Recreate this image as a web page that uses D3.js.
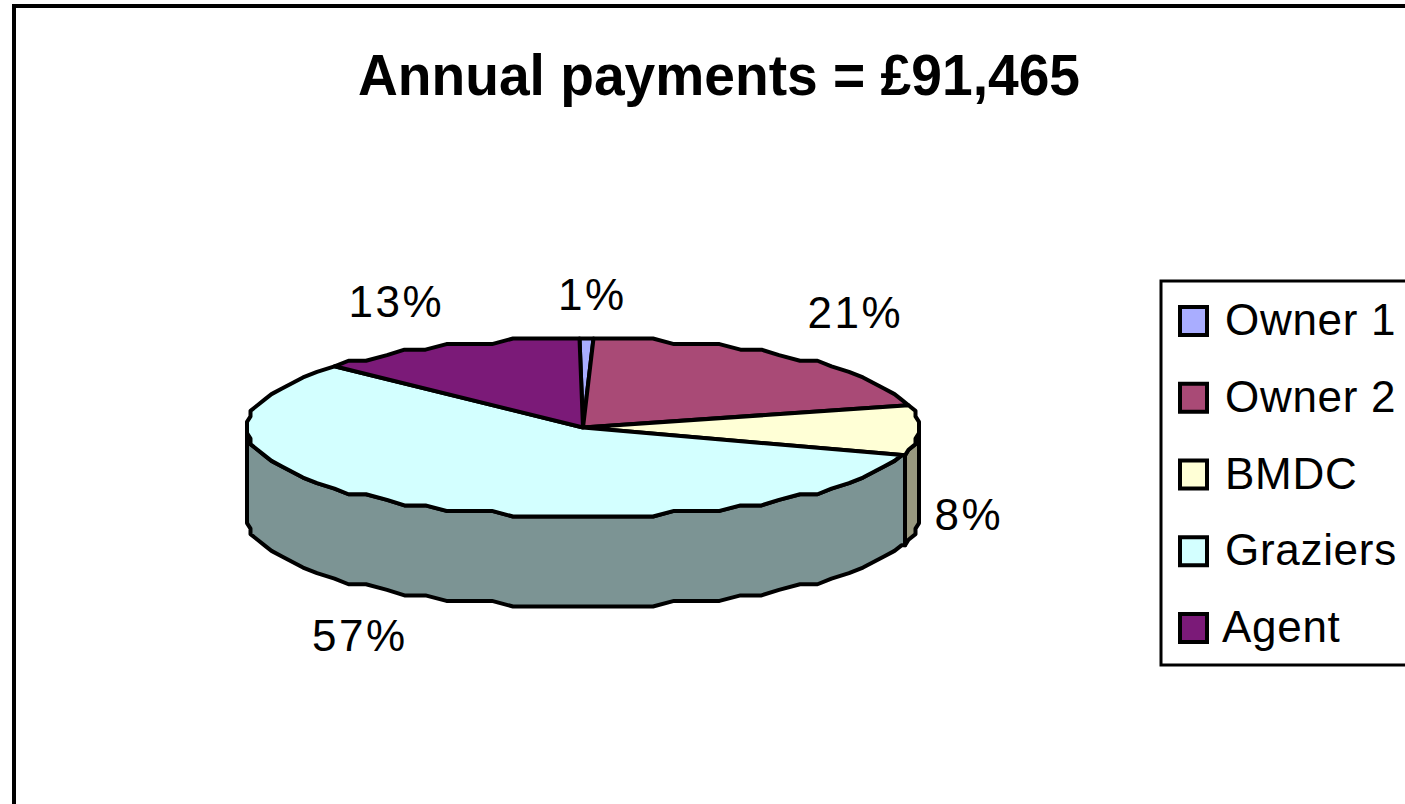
<!DOCTYPE html>
<html>
<head>
<meta charset="utf-8">
<script src="https://cdn.jsdelivr.net/npm/d3@7"></script>
<style>
  body { margin: 0; background: #fff; overflow: hidden; }
  text { font-family: "Liberation Sans", Arial, sans-serif; fill: #000; }
</style>
</head>
<body>
<div id="chart"></div>
<script>
// values
const categories = ["Owner 1", "Owner 2", "BMDC", "Graziers", "Agent"];
const shares = [0.6, 20.7, 8.3, 57.1, 13.0];
const chartTitle = "Annual payments = £91,465";
const topColors = ["#a9adff", "#a94a76", "#ffffd6", "#d3ffff", "#7b1a78"];
const sideColors = ["#595b80", "#55253b", "#99997f", "#7c9494", "#3d0d3c"];

const width = 1405, height = 804;
const cx = 583, cy = 427.5, rx = 336, ry = 89, depth = 90;
const rad = Math.PI / 180;
// the reference is a low-res image blown up, so edges step
const gridX = rx / 96, gridY = ry / 16;

const svg = d3.select("#chart").append("svg")
    .attr("width", width)
    .attr("height", height);

// outer frame runs off the right and bottom of the picture
svg.append("rect")
    .attr("x", 14).attr("y", 6)
    .attr("width", width + 40).attr("height", height + 40)
    .attr("fill", "#fff")
    .attr("stroke", "#000")
    .attr("stroke-width", 4);

svg.append("text")
    .attr("x", 719).attr("y", 95)
    .attr("text-anchor", "middle")
    .attr("font-size", 58)
    .attr("font-weight", "bold")
    .attr("textLength", 722)
    .attr("lengthAdjust", "spacingAndGlyphs")
    .text(chartTitle);

const topColor = d3.scaleOrdinal().domain(categories).range(topColors);
const sideColor = d3.scaleOrdinal().domain(categories).range(sideColors);

const pie = d3.pie()
    .sort(null)
    .value(d => d.share)
    .startAngle(-0.34 * rad)
    .endAngle((360 - 0.34) * rad);

const slices = pie(categories.map((name, i) => ({name: name, share: shares[i]})));

const rimX = a => cx + Math.round(rx * Math.sin(a) / gridX) * gridX;
const rimY = a => cy - Math.round(ry * Math.cos(a) / gridY) * gridY;

// points along the rim between two angles, on a fixed angular step
function rim(a0, a1, offset) {
    const step = 4 * rad;
    const first = Math.ceil(a0 / step) * step;
    const angles = [a0].concat(d3.range(first, a1, step).filter(a => a > a0), [a1]);
    return angles.map(a => [rimX(a), rimY(a) + offset]);
}

const line = d3.line();

// side wall, only the front half of the pie shows
const wall = svg.append("g");
slices.forEach(function (s) {
    const a0 = Math.max(s.startAngle, 90 * rad);
    const a1 = Math.min(s.endAngle, 270 * rad);
    if (a1 <= a0) return;
    const pts = rim(a0, a1, 0).concat(rim(a0, a1, depth).reverse());
    wall.append("path")
        .attr("d", line(pts) + "Z")
        .attr("fill", sideColor(s.data.name))
        .attr("stroke", "#000")
        .attr("stroke-width", 4)
        .attr("stroke-linejoin", "round");
});

// top face
svg.append("g")
    .selectAll("path")
    .data(slices)
    .join("path")
    .attr("d", d => line([[cx, cy]].concat(rim(d.startAngle, d.endAngle, 0))) + "Z")
    .attr("fill", d => topColor(d.data.name))
    .attr("stroke", "#000")
    .attr("stroke-width", 4)
    .attr("stroke-linejoin", "round");

// percentage labels sit off the slice's rim midpoint
const labelNudge = [[5, -29], [60, -31], [50, 100], [-57, 146], [-51, -29]];
svg.append("g")
    .selectAll("text")
    .data(slices)
    .join("text")
    .attr("x", (d, i) => cx + rx * Math.sin((d.startAngle + d.endAngle) / 2) + labelNudge[i][0])
    .attr("y", (d, i) => cy - ry * Math.cos((d.startAngle + d.endAngle) / 2) + labelNudge[i][1])
    .attr("text-anchor", "middle")
    .attr("font-size", 44)
    .attr("letter-spacing", 2.5)
    .text(d => d3.format(".0f")(d.data.share) + "%");

// legend
const legendY = d3.scalePoint().domain(categories).range([321, 628]);
svg.append("rect")
    .attr("x", 1161).attr("y", 281)
    .attr("width", 300).attr("height", 384)
    .attr("fill", "#fff")
    .attr("stroke", "#000")
    .attr("stroke-width", 3);

const legendRow = svg.append("g")
    .selectAll("g")
    .data(categories)
    .join("g")
    .attr("transform", d => "translate(0," + legendY(d) + ")");

legendRow.append("rect")
    .attr("x", 1180).attr("y", -14)
    .attr("width", 27).attr("height", 28)
    .attr("fill", d => topColor(d))
    .attr("stroke", "#000")
    .attr("stroke-width", 4);

legendRow.append("text")
    .attr("x", d => d === "Agent" ? 1222 : 1225)
    .attr("y", 14)
    .attr("font-size", 44)
    .attr("letter-spacing", 0.7)
    .text(d => d);
</script>
</body>
</html>
